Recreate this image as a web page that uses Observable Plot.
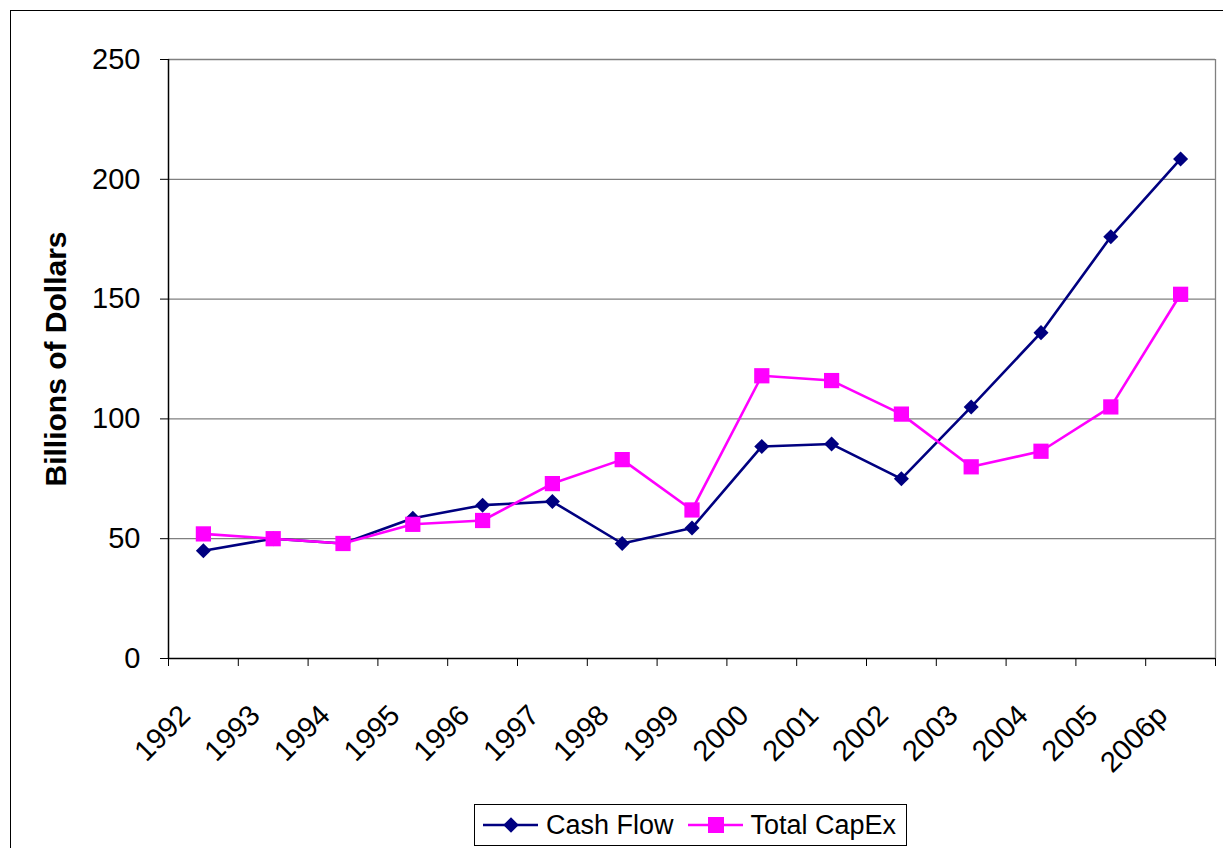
<!DOCTYPE html>
<html>
<head>
<meta charset="utf-8">
<script src="https://cdn.jsdelivr.net/npm/d3@7"></script>
<script src="https://cdn.jsdelivr.net/npm/@observablehq/plot@0.6"></script>
<style>
  html, body { margin: 0; padding: 0; background: #fff; overflow: hidden; width: 1223px; height: 848px; }
  #wrap { position: relative; width: 1223px; height: 848px; }
  #border { position: absolute; left: 10px; top: 10px; width: 1400px; height: 1000px; border-left: 1px solid #000; border-top: 1px solid #000; }
  #chart { position: absolute; left: 0; top: 0; }
  #legend { position: absolute; left: 474px; top: 804px; width: 433px; height: 42px; border: 1px solid #000; background: #fff;
            font-family: "Liberation Sans", Arial, sans-serif; font-size: 27px; display: flex; align-items: center; box-sizing: border-box; }
  #legend .item { display: flex; align-items: center; }
  #legend svg { display: block; }
  g[aria-label="y-axis label"] text { font-weight: bold; font-size: 30px; }
</style>
</head>
<body>
<div id="wrap">
  <div id="border"></div>
  <div id="chart"></div>
  <div id="legend"></div>
</div>
<script>
const years = ["1992","1993","1994","1995","1996","1997","1998","1999","2000","2001","2002","2003","2004","2005","2006p"];
const cashFlow = [45, 50, 48, 58.5, 64, 65.5, 48, 54.5, 88.5, 89.5, 75, 105, 136, 176, 208.5];
const totalCapEx = [52, 50, 48, 56, 57.6, 73, 83, 62, 118, 116, 102, 80, 86.5, 105, 152];
const yTicks = [0, 50, 100, 150, 200, 250];
const seriesNames = ["Cash Flow", "Total CapEx"];
const navy = "#000080", magenta = "#FF00FF";

const rows = years.map((year, i) => ({pos: i + 0.5, year, cf: cashFlow[i], cx: totalCapEx[i]}));
const bounds = d3.range(years.length + 1);

const chart = Plot.plot({
  width: 1223, height: 848,
  marginLeft: 168, marginRight: 8, marginTop: 59, marginBottom: 190,
  style: {fontFamily: "'Liberation Sans', Arial, sans-serif", fontSize: "28px", color: "#000", background: "transparent", overflow: "visible"},
  x: {domain: [0, years.length]},
  y: {domain: [0, 250]},
  marks: [
    Plot.gridY(yTicks.filter(d => d > 0), {stroke: "#808080", strokeOpacity: 1, strokeWidth: 1.3}),
    Plot.ruleX([years.length], {stroke: "#808080", strokeWidth: 1.3}),
    Plot.axisY(yTicks, {tickSize: 8, tickPadding: 20, fontSize: 29, stroke: "#000", label: "Billions of Dollars", labelAnchor: "center", labelArrow: "none", labelOffset: 124}),
    Plot.axisX(bounds, {tickSize: 8, tickFormat: () => "", label: null, stroke: "#000"}),
    Plot.axisX(rows.map(d => d.pos), {tickSize: 0, tickPadding: 52, dx: -18, fontSize: 29, tickRotate: -45, tickFormat: d => years[Math.floor(d)], label: null}),
    Plot.ruleY([0], {stroke: "#000", strokeWidth: 1.5}),
    Plot.ruleX([0], {stroke: "#000", strokeWidth: 1.5}),
    Plot.line(rows, {x: "pos", y: "cf", stroke: navy, strokeWidth: 2.6}),
    Plot.dot(rows, {x: "pos", y: "cf", symbol: "square", r: 6, fill: navy, rotate: 45}),
    Plot.line(rows, {x: "pos", y: "cx", stroke: magenta, strokeWidth: 2.6}),
    Plot.dot(rows, {x: "pos", y: "cx", symbol: "square", r: 8.6, fill: magenta})
  ]
});
document.getElementById("chart").appendChild(chart);

// Legend
const legend = document.getElementById("legend");
const items = [
  {name: seriesNames[0], color: navy, shape: "diamond"},
  {name: seriesNames[1], color: magenta, shape: "square"}
];
const pads = [8, 14];
items.forEach((it, k) => {
  const div = document.createElement("div");
  div.className = "item";
  div.style.marginLeft = pads[k] + "px";
  const ns = "http://www.w3.org/2000/svg";
  const svg = document.createElementNS(ns, "svg");
  svg.setAttribute("width", 56); svg.setAttribute("height", 20);
  const line = document.createElementNS(ns, "line");
  line.setAttribute("x1", 0); line.setAttribute("x2", 55); line.setAttribute("y1", 10); line.setAttribute("y2", 10);
  line.setAttribute("stroke", it.color); line.setAttribute("stroke-width", 2.5);
  svg.appendChild(line);
  const shp = document.createElementNS(ns, "rect");
  if (it.shape === "diamond") {
    shp.setAttribute("x", 22.5); shp.setAttribute("y", 4.5); shp.setAttribute("width", 11); shp.setAttribute("height", 11);
    shp.setAttribute("transform", "rotate(45 28 10)");
  } else {
    shp.setAttribute("x", 20); shp.setAttribute("y", 2); shp.setAttribute("width", 16); shp.setAttribute("height", 16);
  }
  shp.setAttribute("fill", it.color);
  svg.appendChild(shp);
  div.appendChild(svg);
  const span = document.createElement("span");
  span.textContent = it.name;
  span.style.marginLeft = "7px";
  div.appendChild(span);
  legend.appendChild(div);
});
</script>
</body>
</html>
